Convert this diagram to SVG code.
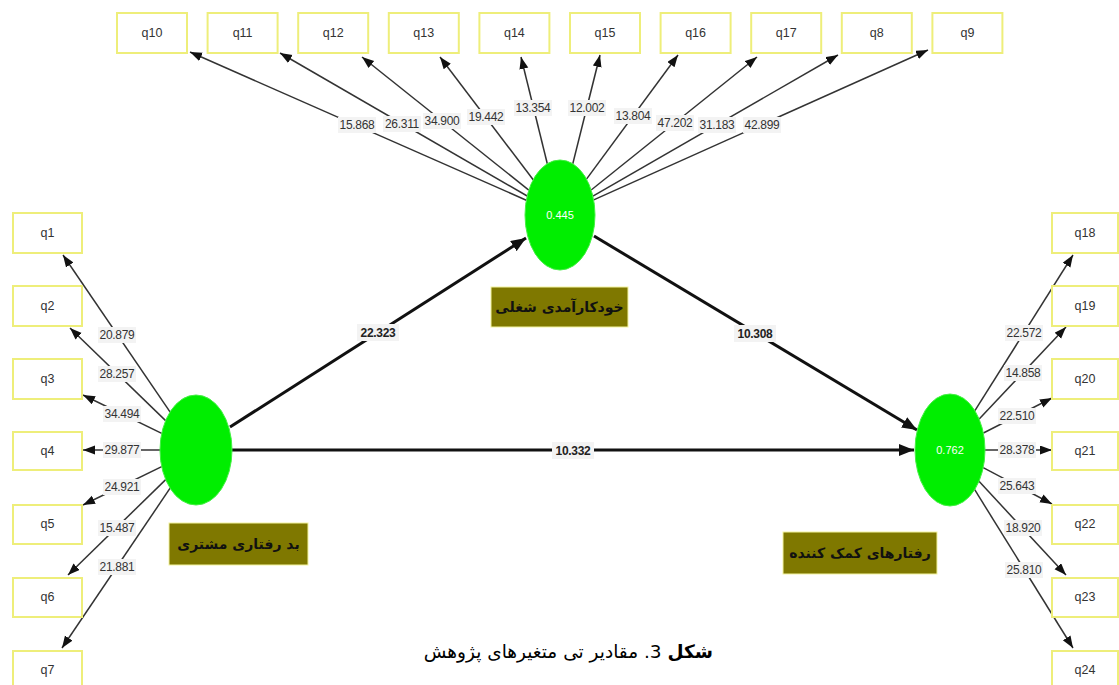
<svg xmlns="http://www.w3.org/2000/svg" width="1119" height="685" viewBox="0 0 1119 685">
<style>
.ind{fill:#ffffff;stroke:#eeee7a;stroke-width:2}
.indt{font-family:"Liberation Sans",Arial,sans-serif;font-size:12.5px;fill:#333333;text-anchor:middle}
.lat{fill:#00ee00;stroke:#44f044;stroke-width:1}
.latt{font-family:"Liberation Sans",Arial,sans-serif;font-size:11px;fill:#ffffff;text-anchor:middle}
.lbl{fill:#7f7800;stroke:#f4f4a0;stroke-width:1}
.lblt{font-family:"DejaVu Sans",sans-serif;font-size:14px;font-weight:bold;fill:#111111;text-anchor:middle}
.ol{stroke:#333333;stroke-width:1.5;fill:none}
.pl{stroke:#111111;stroke-width:3;fill:none}
.lb{fill:#f3f3f3}
.lt{font-family:"Liberation Sans",Arial,sans-serif;font-size:12px;fill:#333333;text-anchor:middle;letter-spacing:-0.3px}
.pt{font-family:"Liberation Sans",Arial,sans-serif;font-size:12px;font-weight:bold;fill:#222222;text-anchor:middle;letter-spacing:-0.3px}
.cap{font-family:"DejaVu Sans",sans-serif;font-size:18.5px;fill:#000000}
</style>
<defs>
<marker id="a" markerUnits="userSpaceOnUse" markerWidth="13" markerHeight="10" refX="12" refY="4.5" orient="auto">
<path d="M0,0 L12,4.5 L0,9 z" fill="#111111"/>
</marker>
<marker id="b" markerUnits="userSpaceOnUse" markerWidth="16" markerHeight="14" refX="15" refY="6" orient="auto">
<path d="M0,0 L15,6 L0,12 z" fill="#111111"/>
</marker>
</defs>
<rect x="0" y="0" width="1119" height="685" fill="#ffffff"/>

<g id="connectors">
<line class="ol" x1="526.3" y1="200.2" x2="190" y2="52" marker-end="url(#a)"/>
<line class="ol" x1="527.2" y1="196" x2="280" y2="53" marker-end="url(#a)"/>
<line class="ol" x1="528.8" y1="190.1" x2="362" y2="57" marker-end="url(#a)"/>
<line class="ol" x1="533.2" y1="179.7" x2="440" y2="57" marker-end="url(#a)"/>
<line class="ol" x1="547.3" y1="163.7" x2="521" y2="57" marker-end="url(#a)"/>
<line class="ol" x1="572.8" y1="163.8" x2="600" y2="55" marker-end="url(#a)"/>
<line class="ol" x1="586.5" y1="179.1" x2="678" y2="55" marker-end="url(#a)"/>
<line class="ol" x1="591.2" y1="190" x2="757" y2="57" marker-end="url(#a)"/>
<line class="ol" x1="592.9" y1="196.1" x2="838" y2="55" marker-end="url(#a)"/>
<line class="ol" x1="593.7" y1="199.9" x2="928" y2="50" marker-end="url(#a)"/>
<line class="ol" x1="170" y1="411.9" x2="63" y2="255" marker-end="url(#a)"/>
<line class="ol" x1="165.6" y1="420.6" x2="70" y2="328" marker-end="url(#a)"/>
<line class="ol" x1="161.7" y1="433.3" x2="83" y2="395" marker-end="url(#a)"/>
<line class="ol" x1="160" y1="450" x2="83" y2="450" marker-end="url(#a)"/>
<line class="ol" x1="161.7" y1="466.7" x2="83" y2="505" marker-end="url(#a)"/>
<line class="ol" x1="165.7" y1="479.6" x2="68" y2="575" marker-end="url(#a)"/>
<line class="ol" x1="170.1" y1="488.2" x2="62" y2="648" marker-end="url(#a)"/>
<line class="ol" x1="974.9" y1="410.6" x2="1073" y2="255" marker-end="url(#a)"/>
<line class="ol" x1="979.2" y1="419.1" x2="1066" y2="327" marker-end="url(#a)"/>
<line class="ol" x1="983.4" y1="433" x2="1052" y2="398" marker-end="url(#a)"/>
<line class="ol" x1="985" y1="450" x2="1052" y2="450" marker-end="url(#a)"/>
<line class="ol" x1="983.2" y1="467.6" x2="1052" y2="504" marker-end="url(#a)"/>
<line class="ol" x1="979" y1="481.3" x2="1066" y2="575" marker-end="url(#a)"/>
<line class="ol" x1="974.7" y1="489.7" x2="1073" y2="648" marker-end="url(#a)"/>
<line class="pl" x1="230" y1="427" x2="526" y2="238" marker-end="url(#b)"/>
<line class="pl" x1="594" y1="236" x2="917" y2="430" marker-end="url(#b)"/>
<line class="pl" x1="232" y1="450" x2="914" y2="450" marker-end="url(#b)"/>

<g>
<rect class="lb" x="338" y="117" width="38" height="16"/><text class="lt" x="357" y="129">15.868</text>
<rect class="lb" x="383" y="116" width="38" height="16"/><text class="lt" x="402" y="128">26.311</text>
<rect class="lb" x="423" y="113" width="38" height="16"/><text class="lt" x="442" y="125">34.900</text>
<rect class="lb" x="467" y="109" width="38" height="16"/><text class="lt" x="486" y="121">19.442</text>
<rect class="lb" x="514" y="100" width="38" height="16"/><text class="lt" x="533" y="112">13.354</text>
<rect class="lb" x="568" y="100" width="38" height="16"/><text class="lt" x="587" y="112">12.002</text>
<rect class="lb" x="614" y="108" width="38" height="16"/><text class="lt" x="633" y="120">13.804</text>
<rect class="lb" x="656" y="115" width="38" height="16"/><text class="lt" x="675" y="127">47.202</text>
<rect class="lb" x="698" y="117" width="38" height="16"/><text class="lt" x="717" y="129">31.183</text>
<rect class="lb" x="743" y="117" width="38" height="16"/><text class="lt" x="762" y="129">42.899</text>
<rect class="lb" x="98" y="327" width="38" height="16"/><text class="lt" x="117" y="339">20.879</text>
<rect class="lb" x="98" y="366" width="38" height="16"/><text class="lt" x="117" y="378">28.257</text>
<rect class="lb" x="103" y="406" width="38" height="16"/><text class="lt" x="122" y="418">34.494</text>
<rect class="lb" x="103" y="442" width="38" height="16"/><text class="lt" x="122" y="454">29.877</text>
<rect class="lb" x="103" y="479" width="38" height="16"/><text class="lt" x="122" y="491">24.921</text>
<rect class="lb" x="98" y="520" width="38" height="16"/><text class="lt" x="117" y="532">15.487</text>
<rect class="lb" x="98" y="559" width="38" height="16"/><text class="lt" x="117" y="571">21.881</text>
<rect class="lb" x="1005" y="325" width="38" height="16"/><text class="lt" x="1024" y="337">22.572</text>
<rect class="lb" x="1004" y="365" width="38" height="16"/><text class="lt" x="1023" y="377">14.858</text>
<rect class="lb" x="998" y="408" width="38" height="16"/><text class="lt" x="1017" y="420">22.510</text>
<rect class="lb" x="998" y="442" width="38" height="16"/><text class="lt" x="1017" y="454">28.378</text>
<rect class="lb" x="998" y="478" width="38" height="16"/><text class="lt" x="1017" y="490">25.643</text>
<rect class="lb" x="1004" y="520" width="38" height="16"/><text class="lt" x="1023" y="532">18.920</text>
<rect class="lb" x="1005" y="562" width="38" height="16"/><text class="lt" x="1024" y="574">25.810</text>
<rect class="lb" x="357" y="324" width="42" height="17"/><text class="pt" x="378" y="337">22.323</text>
<rect class="lb" x="734" y="325" width="42" height="17"/><text class="pt" x="755" y="338">10.308</text>
<rect class="lb" x="552" y="442" width="42" height="17"/><text class="pt" x="573" y="455">10.332</text>
</g>
</g>

<g id="q10"><rect class="ind" x="117" y="13" width="70" height="40"/><text class="indt" x="152" y="37">q10</text></g>
<g id="q11"><rect class="ind" x="207.6" y="13" width="70" height="40"/><text class="indt" x="242.6" y="37">q11</text></g>
<g id="q12"><rect class="ind" x="298.2" y="13" width="70" height="40"/><text class="indt" x="333.2" y="37">q12</text></g>
<g id="q13"><rect class="ind" x="388.8" y="13" width="70" height="40"/><text class="indt" x="423.8" y="37">q13</text></g>
<g id="q14"><rect class="ind" x="479.4" y="13" width="70" height="40"/><text class="indt" x="514.4" y="37">q14</text></g>
<g id="q15"><rect class="ind" x="570" y="13" width="70" height="40"/><text class="indt" x="605" y="37">q15</text></g>
<g id="q16"><rect class="ind" x="660.6" y="13" width="70" height="40"/><text class="indt" x="695.6" y="37">q16</text></g>
<g id="q17"><rect class="ind" x="751.2" y="13" width="70" height="40"/><text class="indt" x="786.2" y="37">q17</text></g>
<g id="q8"><rect class="ind" x="841.8" y="13" width="70" height="40"/><text class="indt" x="876.8" y="37">q8</text></g>
<g id="q9"><rect class="ind" x="932.4" y="13" width="70" height="40"/><text class="indt" x="967.4" y="37">q9</text></g>

<g id="q1"><rect class="ind" x="13" y="213" width="69" height="40"/><text class="indt" x="47.5" y="237">q1</text></g>
<g id="q2"><rect class="ind" x="13" y="286" width="69" height="40"/><text class="indt" x="47.5" y="310">q2</text></g>
<g id="q3"><rect class="ind" x="13" y="359" width="69" height="40"/><text class="indt" x="47.5" y="383">q3</text></g>
<g id="q4"><rect class="ind" x="13" y="432" width="69" height="38"/><text class="indt" x="47.5" y="455">q4</text></g>
<g id="q5"><rect class="ind" x="13" y="505" width="69" height="39"/><text class="indt" x="47.5" y="528">q5</text></g>
<g id="q6"><rect class="ind" x="13" y="578" width="69" height="39"/><text class="indt" x="47.5" y="601">q6</text></g>
<g id="q7"><rect class="ind" x="13" y="651" width="69" height="40"/><text class="indt" x="47.5" y="674">q7</text></g>

<g id="q18"><rect class="ind" x="1052" y="213" width="66" height="40"/><text class="indt" x="1085" y="237">q18</text></g>
<g id="q19"><rect class="ind" x="1052" y="286" width="66" height="40"/><text class="indt" x="1085" y="310">q19</text></g>
<g id="q20"><rect class="ind" x="1052" y="359" width="66" height="40"/><text class="indt" x="1085" y="383">q20</text></g>
<g id="q21"><rect class="ind" x="1052" y="432" width="66" height="38"/><text class="indt" x="1085" y="455">q21</text></g>
<g id="q22"><rect class="ind" x="1052" y="505" width="66" height="39"/><text class="indt" x="1085" y="528">q22</text></g>
<g id="q23"><rect class="ind" x="1052" y="578" width="66" height="39"/><text class="indt" x="1085" y="601">q23</text></g>
<g id="q24"><rect class="ind" x="1052" y="651" width="66" height="40"/><text class="indt" x="1085" y="674">q24</text></g>

<g id="self-efficacy">
<ellipse class="lat" cx="560" cy="215" rx="35" ry="55"/>
<text class="latt" x="560" y="219">0.445</text>
<rect class="lbl" x="491" y="287" width="137" height="40"/>
<text class="lblt" x="559.5" y="312" direction="rtl">خودکارآمدی شغلی</text>
</g>
<g id="customer-misbehavior">
<ellipse class="lat" cx="196" cy="450" rx="36" ry="55"/>
<rect class="lbl" x="169" y="523" width="139" height="42"/>
<text class="lblt" x="238.5" y="549" direction="rtl">بد رفتاری مشتری</text>
</g>
<g id="helping-behavior">
<ellipse class="lat" cx="950" cy="450" rx="35" ry="56"/>
<text class="latt" x="950" y="454">0.762</text>
<rect class="lbl" x="783" y="532" width="154" height="42"/>
<text class="lblt" x="860" y="558" direction="rtl">رفتارهای کمک کننده</text>
</g>

<g id="caption">
<text class="cap" x="713" y="658" direction="rtl" text-anchor="start"><tspan font-weight="bold">شکل</tspan> 3. مقادیر تی متغیرهای پژوهش</text>
</g>
</svg>
